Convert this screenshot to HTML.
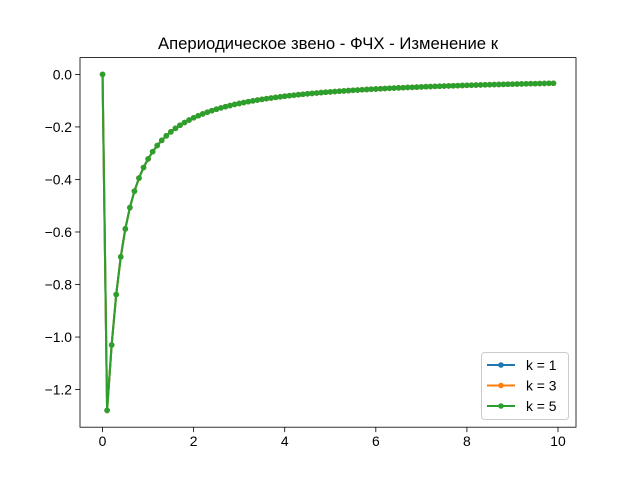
<!DOCTYPE html>
<html><head><meta charset="utf-8"><style>
body{margin:0;background:#fff}
svg{display:block;font-family:"Liberation Sans","DejaVu Sans",sans-serif}
</style></head><body>
<svg id="chart" width="640" height="480" viewBox="0 0 640 480">
<rect width="640" height="480" fill="#fff"/>
<text x="328" y="49" text-anchor="middle" font-size="16.7" fill="#000">Апериодическое звено - ФЧХ - Изменение к</text>
<g id="plot"></g>
</svg>
<script>
const xValues = [0,0.1,0.2,0.3,0.4,0.5,0.6,0.7,0.8,0.9,1.0,1.1,1.2,1.3,1.4,1.5,1.6,1.7,1.8,1.9,2.0,2.1,2.2,2.3,2.4,2.5,2.6,2.7,2.8,2.9,3.0,3.1,3.2,3.3,3.4,3.5,3.6,3.7,3.8,3.9,4.0,4.1,4.2,4.3,4.4,4.5,4.6,4.7,4.8,4.9,5.0,5.1,5.2,5.3,5.4,5.5,5.6,5.7,5.8,5.9,6.0,6.1,6.2,6.3,6.4,6.5,6.6,6.7,6.8,6.9,7.0,7.1,7.2,7.3,7.4,7.5,7.6,7.7,7.8,7.9,8.0,8.1,8.2,8.3,8.4,8.5,8.6,8.7,8.8,8.9,9.0,9.1,9.2,9.3,9.4,9.5,9.6,9.7,9.8,9.9];
const phaseValues = [0,-1.2793,-1.0304,-0.8380,-0.6947,-0.5880,-0.5071,-0.4445,-0.3948,-0.3545,-0.3218,-0.2943,-0.2709,-0.2511,-0.2337,-0.2187,-0.2054,-0.1936,-0.1831,-0.1737,-0.1651,-0.1574,-0.1504,-0.1439,-0.1380,-0.1326,-0.1275,-0.1228,-0.1185,-0.1144,-0.1107,-0.1071,-0.1038,-0.1007,-0.0977,-0.0950,-0.0923,-0.0899,-0.0875,-0.0853,-0.0831,-0.0811,-0.0792,-0.0774,-0.0756,-0.0739,-0.0723,-0.0708,-0.0693,-0.0679,-0.0666,-0.0653,-0.0640,-0.0628,-0.0617,-0.0605,-0.0595,-0.0584,-0.0574,-0.0564,-0.0555,-0.0546,-0.0537,-0.0528,-0.0520,-0.0512,-0.0505,-0.0497,-0.0490,-0.0483,-0.0476,-0.0469,-0.0463,-0.0456,-0.0450,-0.0444,-0.0438,-0.0433,-0.0427,-0.0422,-0.0416,-0.0411,-0.0406,-0.0401,-0.0397,-0.0392,-0.0387,-0.0383,-0.0379,-0.0374,-0.0370,-0.0366,-0.0362,-0.0358,-0.0354,-0.0351,-0.0347,-0.0344,-0.0340,-0.0337];
const seriesK1 = phaseValues.slice();
const seriesK3 = phaseValues.slice();
const seriesK5 = phaseValues.slice();
const seriesLabels = ["k = 1","k = 3","k = 5"];
const xTicks = [0,2,4,6,8,10];
const xTickLabels = ["0","2","4","6","8","10"];
const yTicks = [0,-0.2,-0.4,-0.6,-0.8,-1.0,-1.2];
const yTickLabels = ["0.0","\u22120.2","\u22120.4","\u22120.6","\u22120.8","\u22121.0","\u22121.2"];

const NS="http://www.w3.org/2000/svg";
const L=80,R=576,T=57.6,B=427.2;
const allY=[].concat(seriesK1,seriesK3,seriesK5);
const xmin0=Math.min(...xValues),xmax0=Math.max(...xValues);
const ymin0=Math.min(...allY),ymax0=Math.max(...allY);
const xm=(xmax0-xmin0)*0.05,ym=(ymax0-ymin0)*0.05;
const xmin=xmin0-xm,xmax=xmax0+xm,ymin=ymin0-ym,ymax=ymax0+ym;
function sx(v){return L+(v-xmin)/(xmax-xmin)*(R-L);}
function sy(v){return B-(v-ymin)/(ymax-ymin)*(B-T);}
const plot=document.getElementById('plot');
function mk(tag,attrs,parent){const e=document.createElementNS(NS,tag);for(const k in attrs)e.setAttribute(k,attrs[k]);(parent||plot).appendChild(e);return e;}

xTicks.forEach((t,i)=>{
  const x=sx(t);
  const tk=mk('line',{x1:x,x2:x,y1:B,y2:B+4.9,stroke:'#000','stroke-width':0.8});
  
  
  const tl=mk('text',{x:x,y:B+19,'text-anchor':'middle','font-size':13.9,fill:'#000'});
  tl.textContent=xTickLabels[i];
  
  
});
yTicks.forEach((t,i)=>{
  const y=sy(t);
  const tk=mk('line',{x1:L-4.9,x2:L,y1:y,y2:y,stroke:'#000','stroke-width':0.8});
  
  
  const tl=mk('text',{x:L-8,y:y+5,'text-anchor':'end','font-size':13.9,fill:'#000'});
  tl.textContent=yTickLabels[i];
  
  
});

const colors=['#1f77b4','#ff7f0e','#2ca02c'];
[seriesK1,seriesK3,seriesK5].forEach((s,si)=>{
  const g=mk('g',{});
  
  
  const pts=s.map((v,i)=>sx(xValues[i]).toFixed(2)+','+sy(v).toFixed(2)).join(' ');
  const pl=mk('polyline',{points:pts,fill:'none',stroke:colors[si],'stroke-width':2.08,'stroke-linejoin':'round'},g);
  
  
  s.forEach((v,i)=>{
    const c=mk('circle',{cx:sx(xValues[i]),cy:sy(v),r:2.8,fill:colors[si]},g);
    
    
  });
});

const frame=mk('rect',{x:L,y:T,width:R-L,height:B-T,fill:'none',stroke:'#000','stroke-width':0.8});



const lg=mk('g',{});


mk('rect',{x:481.5,y:352.5,width:87,height:67,rx:3,fill:'#fff','fill-opacity':0.8,stroke:'#ccc','stroke-width':1},lg);
seriesLabels.forEach((lab,i)=>{
  const y=365+i*20.5;
  const e=mk('g',{},lg);
  
  
  mk('line',{x1:487,x2:515,y1:y,y2:y,stroke:colors[i],'stroke-width':2.08},e);
  mk('circle',{cx:501,cy:y,r:2.8,fill:colors[i]},e);
  const t=mk('text',{x:526,y:y+5,'font-size':13.9,fill:'#000'},e);
  t.textContent=lab;
});
</script>
</body></html>
